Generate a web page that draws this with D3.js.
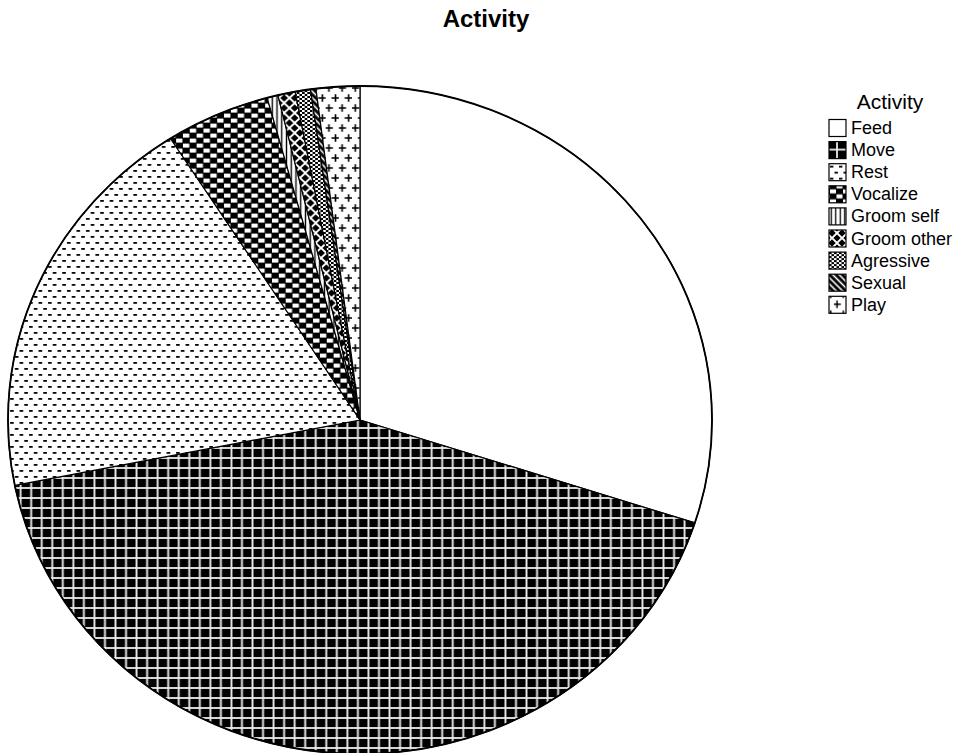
<!DOCTYPE html>
<html>
<head>
<meta charset="utf-8">
<script src="https://cdn.jsdelivr.net/npm/d3@7"></script>
<style>
  html, body { margin: 0; padding: 0; background: #fff; }
  svg { display: block; font-family: "Liberation Sans", Arial, sans-serif; }
</style>
</head>
<body>
<svg id="chart" width="956" height="753"></svg>
<script>
// Share of observed time per activity (%)
const categories = ["Feed", "Move", "Rest", "Vocalize", "Groom self", "Groom other", "Agressive", "Sexual", "Play"];
const values = [30.0, 41.9, 19.1, 4.8, 0.5, 0.8, 0.7, 0.25, 2.0];
const chartTitle = "Activity";
const legendTitle = "Activity";

const svg = d3.select("#chart");
const defs = svg.append("defs");

// ---- hatch patterns, one per activity ----
function pattern(id, w, h, opts = {}) {
  const p = defs.append("pattern")
    .attr("id", id)
    .attr("patternUnits", "userSpaceOnUse")
    .attr("width", w).attr("height", h)
    .attr("x", opts.x || 0).attr("y", opts.y || 0);
  if (opts.transform) p.attr("patternTransform", opts.transform);
  p.append("rect").attr("width", w).attr("height", h).attr("fill", opts.bg || "#fff");
  return p;
}

// Feed: plain white
pattern("p-feed", 10, 10);

// Move: black with a light grid
{
  const p = pattern("p-move", 10, 10, { bg: "#000", x: 3, y: 3 });
  p.append("rect").attr("x", 4.1).attr("y", 0).attr("width", 1.8).attr("height", 10).attr("fill", "#ececec");
  p.append("rect").attr("x", 0).attr("y", 4.1).attr("width", 10).attr("height", 1.8).attr("fill", "#ececec");
}

// Rest: staggered short dashes
{
  const p = pattern("p-rest", 9, 12);
  p.append("rect").attr("x", 1).attr("y", 2).attr("width", 3.4).attr("height", 1.8).attr("fill", "#000");
  p.append("rect").attr("x", 5.5).attr("y", 8).attr("width", 3.4).attr("height", 1.8).attr("fill", "#000");
}

// Vocalize: large checker blocks
{
  const p = pattern("p-vocalize", 13, 10, { bg: "#000", x: 1, y: 3 });
  p.append("rect").attr("x", 0).attr("y", 0.6).attr("width", 6).attr("height", 4).attr("fill", "#fff");
  p.append("rect").attr("x", 6.5).attr("y", 5.6).attr("width", 6).attr("height", 4).attr("fill", "#fff");
}

// Groom self: vertical lines
{
  const p = pattern("p-groomself", 4.5, 4.5);
  p.append("rect").attr("x", 1.6).attr("y", 0).attr("width", 1.3).attr("height", 4.5).attr("fill", "#000");
}

// Groom other: white diamond lattice on black
{
  const p = pattern("p-groomother", 10, 10, { bg: "#000", x: 3, y: 3 });
  p.append("path").attr("d", "M5,0L10,5L5,10L0,5Z")
    .attr("fill", "none").attr("stroke", "#fff").attr("stroke-width", 1.8);
}

// Agressive: fine dotted fill
{
  const p = pattern("p-agressive", 5, 4);
  p.append("rect").attr("x", 0).attr("y", 0).attr("width", 2.6).attr("height", 2).attr("fill", "#000");
  p.append("rect").attr("x", 2.5).attr("y", 2).attr("width", 2.6).attr("height", 2).attr("fill", "#000");
}

// Sexual: white downward diagonals on black
{
  const p = pattern("p-sexual", 4.5, 4.5, { bg: "#000", transform: "rotate(45)" });
  p.append("rect").attr("x", 0).attr("y", 1.4).attr("width", 4.5).attr("height", 1.6).attr("fill", "#fff");
}

// Play: staggered plus signs
{
  const p = pattern("p-play", 12.5, 20, { x: 4.9, y: 3 });
  const arm = 3.8;
  [[3.125, 5], [9.375, 15]].forEach(([px, py]) => {
    p.append("path")
      .attr("d", `M${px - arm},${py}H${px + arm}M${px},${py - arm}V${py + arm}`)
      .attr("stroke", "#000").attr("stroke-width", 1.5).attr("fill", "none");
  });
}

const patternIds = ["p-feed", "p-move", "p-rest", "p-vocalize", "p-groomself", "p-groomother", "p-agressive", "p-sexual", "p-play"];

// ---- title ----
svg.append("text")
  .attr("x", 486).attr("y", 27)
  .attr("text-anchor", "middle")
  .attr("font-size", 24).attr("font-weight", "bold")
  .text(chartTitle);

// ---- pie (slightly wider than tall) ----
const ry = 334, rx = 352;
const cx = 360, cy = 420;

const pie = d3.pie().sort(null).value(d => d.value);
const arcs = pie(categories.map((c, i) => ({ name: c, value: values[i], fill: patternIds[i] })));
const arc = d3.arc().innerRadius(0).outerRadius(ry);

const g = svg.append("g").attr("transform", `translate(${cx},${cy}) scale(${rx / ry},1)`);

g.selectAll("path.slice")
  .data(arcs)
  .join("path")
  .attr("class", "slice")
  .attr("d", arc)
  .attr("fill", d => `url(#${d.data.fill})`)
  .attr("stroke", "#000")
  .attr("stroke-width", 1.2)
  .attr("stroke-linejoin", "round")
  .attr("vector-effect", "non-scaling-stroke");

g.append("circle")
  .attr("r", ry)
  .attr("fill", "none")
  .attr("stroke", "#000")
  .attr("stroke-width", 1.8)
  .attr("vector-effect", "non-scaling-stroke");

// ---- legend ----
const legend = svg.append("g");
legend.append("text")
  .attr("x", 890).attr("y", 109)
  .attr("text-anchor", "middle")
  .attr("font-size", 21)
  .text(legendTitle);

const item = legend.selectAll("g.item")
  .data(categories)
  .join("g")
  .attr("class", "item")
  .attr("transform", (d, i) => `translate(829,${119.5 + i * 22.1})`);

item.append("rect")
  .attr("width", 17).attr("height", 17)
  .attr("fill", (d, i) => `url(#${patternIds[i]})`)
  .attr("stroke", "#000").attr("stroke-width", 1.2);

item.append("text")
  .attr("x", 22).attr("y", 14.5)
  .attr("font-size", 18)
  .text(d => d);
</script>
</body>
</html>
